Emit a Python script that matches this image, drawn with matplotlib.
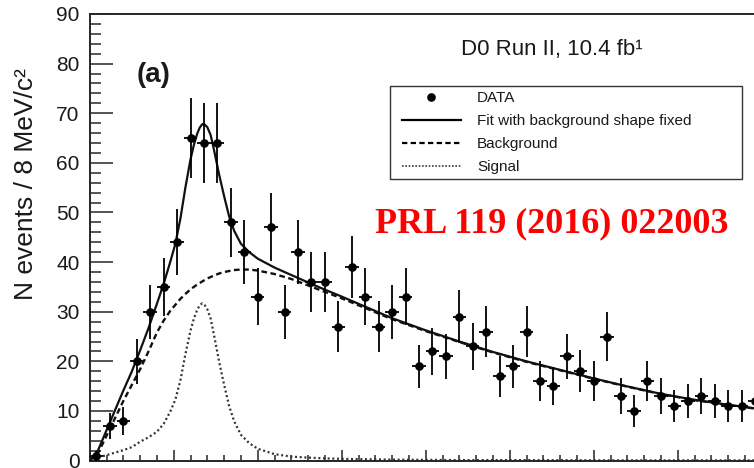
import numpy as np
import matplotlib
matplotlib.use("Agg")
import matplotlib.pyplot as plt
from matplotlib.lines import Line2D
from matplotlib.legend_handler import HandlerLine2D
from matplotlib.ticker import MultipleLocator

plt.rcParams["font.family"] = ["Liberation Sans", "DejaVu Sans"]

# Bs pi invariant mass histogram, 8 MeV bins starting at 5.50 GeV
bin_start = 5.500
bin_width = 0.008
counts = [1, 7, 8, 20, 30, 35, 44, 65, 64, 64,
          48, 42, 33, 47, 30, 42, 36, 36, 27, 39,
          33, 27, 30, 33, 19, 22, 21, 29, 23, 26,
          17, 19, 26, 16, 15, 21, 18, 16, 25, 13,
          10, 16, 13, 11, 12, 13, 12, 11, 11, 12]

# Fit components sampled on a common mass grid (GeV)
curve_mass = [5.500, 5.505, 5.510, 5.515, 5.520, 5.525, 5.530, 5.535, 5.540, 5.544,
              5.548, 5.551, 5.554, 5.557, 5.560, 5.562, 5.564, 5.5655, 5.567, 5.5685,
              5.570, 5.572, 5.574, 5.577, 5.580, 5.583, 5.586, 5.590, 5.595, 5.600,
              5.610, 5.620, 5.630, 5.640, 5.650, 5.660, 5.680, 5.700, 5.720, 5.740,
              5.760, 5.780, 5.800, 5.820, 5.840, 5.860, 5.880, 5.900]
background = [0.0, 1.5, 5.0, 8.5, 12.0, 15.2, 18.4, 22.0, 25.8, 28.2,
              30.2, 31.4, 32.6, 33.6, 34.5, 35.0, 35.5, 35.8, 36.1, 36.4,
              36.7, 37.0, 37.3, 37.7, 38.0, 38.2, 38.4, 38.5, 38.5, 38.3,
              37.6, 36.6, 35.3, 34.0, 32.7, 31.3, 28.5, 26.1, 23.9, 21.8,
              19.9, 18.2, 16.5, 14.9, 13.4, 12.2, 11.2, 10.3]
signal = [0.0, 0.6, 1.1, 1.6, 2.1, 2.7, 3.8, 4.7, 5.8, 7.4,
          9.9, 12.3, 16.2, 21.5, 26.2, 28.6, 30.4, 31.3, 31.7, 31.3,
          30.5, 28.6, 25.3, 20.0, 15.3, 11.0, 7.9, 5.2, 3.5, 2.4,
          1.3, 0.8, 0.6, 0.45, 0.35, 0.3, 0.2, 0.15, 0.1, 0.1,
          0.1, 0.08, 0.06, 0.05, 0.05, 0.05, 0.05, 0.05]

counts_arr = np.array(counts, dtype=float)
centers = bin_start + bin_width * (np.arange(len(counts)) + 0.5)
errors = np.sqrt(counts_arr)
bg = np.array(background)
sig = np.array(signal)
total = bg + sig

W, H = 754, 468
fig = plt.figure(figsize=(W / 100, H / 100), dpi=100)

# frame: left edge at 5.50 GeV, y from 0 to 90
ax_left, ax_bottom = 89.7, 7.4
ax_w, ax_h = 672.0, 446.6
ax = fig.add_axes([ax_left / W, ax_bottom / H, ax_w / W, ax_h / H])
ax.set_xlim(5.50, 5.90)
ax.set_ylim(0, 90)

frame_col = "#262626"
for side in ("left", "bottom", "top", "right"):
    ax.spines[side].set_color(frame_col)
    ax.spines[side].set_linewidth(1.4)

ax.yaxis.set_major_locator(MultipleLocator(10))
ax.yaxis.set_minor_locator(MultipleLocator(2))
ax.xaxis.set_major_locator(MultipleLocator(0.05))
ax.xaxis.set_minor_locator(MultipleLocator(0.01))
ax.tick_params(axis="y", which="major", direction="in", length=16.5, width=1.1,
               color=frame_col, labelsize=15, pad=7.3, labelcolor="#1a1a1a")
ax.tick_params(axis="y", which="minor", direction="in", length=7.9, width=1.1, color=frame_col)
ax.tick_params(axis="x", which="major", direction="in", length=7.9, width=1.1,
               color=frame_col, labelbottom=False)
ax.tick_params(axis="x", which="minor", direction="in", length=4.0, width=1.1, color=frame_col)

# fit components
ax.plot(curve_mass, sig, color="#333333", lw=1.6, linestyle=(0, (0.9, 1.2)), zorder=2)
ax.plot(curve_mass, bg, color="#111111", lw=1.7, linestyle=(0, (2.4, 1.5)), zorder=2)
ax.plot(curve_mass, total, color="#111111", lw=1.6, zorder=3)

# data with Poisson errors and half-bin horizontal bars
ax.errorbar(centers, counts_arr, yerr=errors, xerr=bin_width / 2, fmt="o",
            color="black", markersize=5.2, elinewidth=1.3, capsize=0, zorder=4)

# legend
handles = [
    Line2D([], [], color="black", marker="o", linestyle="none", markersize=5.2),
    Line2D([], [], color="black", lw=1.6),
    Line2D([], [], color="black", lw=1.6, linestyle=(0, (2.4, 1.5))),
    Line2D([], [], color="#3a3a3a", lw=1.2, linestyle=(0, (1.0, 1.0))),
]
labels = ["DATA", "Fit with background shape fixed", "Background", "Signal"]
lx0 = (390 - ax_left) / ax_w
lx1 = (741.7 - ax_left) / ax_w
ly1 = (H - ax_bottom - 86) / ax_h
leg = ax.legend(handles, labels, loc="upper left",
                bbox_to_anchor=(lx0, ly1 - 0.3, lx1 - lx0, 0.3),
                mode="expand", borderaxespad=0, fontsize=11,
                borderpad=0.35, labelspacing=0.58, handlelength=4.28,
                handletextpad=1.07, numpoints=1, fancybox=False,
                framealpha=1, edgecolor="#333333",
                handler_map={Line2D: HandlerLine2D(xpad=0.435)})
leg.get_frame().set_linewidth(1.0)
for t in leg.get_texts():
    t.set_color("#1a1a1a")

# annotations
fig.text(154 / W, 1 - 75 / H, "(a)", fontsize=20, fontweight="bold",
         ha="center", va="center", color="#1a1a1a")
fig.text(551.5 / W, 1 - 55 / H, "D0 Run II, 10.4 fb\u00b9", fontsize=16,
         ha="center", va="baseline", color="#1a1a1a")
fig.text(551.7 / W, 1 - 232.7 / H, "PRL 119 (2016) 022003", fontsize=26,
         fontweight="bold", family="Liberation Serif", color="#ff0000",
         ha="center", va="baseline")
fig.text(26.5 / W, 1 - 68 / H, "N events / 8 MeV/c\u00b2", fontsize=19,
         rotation=90, ha="center", va="top", color="#1a1a1a")

fig.savefig("out.png", dpi=100)
